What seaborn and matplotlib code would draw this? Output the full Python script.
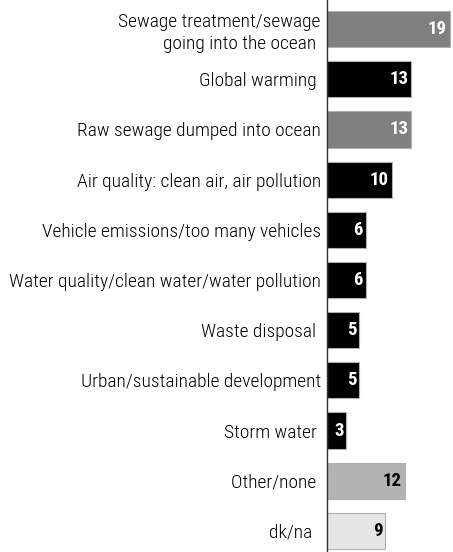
import matplotlib
matplotlib.use("Agg")
import matplotlib.pyplot as plt
import seaborn as sns

# Chart data
categories = [
    "Sewage treatment/sewage\ngoing into the ocean ",
    "Global warming ",
    "Raw sewage dumped into ocean",
    "Air quality: clean air, air pollution",
    "Vehicle emissions/too many vehicles",
    "Water quality/clean water/water pollution",
    "Waste disposal ",
    "Urban/sustainable development",
    "Storm water ",
    "Other/none ",
    "dk/na  ",
]
values = [19, 13, 13, 10, 6, 6, 5, 5, 3, 12, 9]
bar_colors = ["#808080", "#000000", "#808080", "#000000", "#000000", "#000000",
              "#000000", "#000000", "#000000", "#b3b3b3", "#e6e6e6"]
label_colors = ["white"] * 9 + ["black", "black"]

sns.set_style("white")
plt.rcParams["font.family"] = ["Roboto Condensed", "DejaVu Sans"]
plt.rcParams["font.stretch"] = "condensed"

fig = plt.figure(figsize=(4.53, 5.52), dpi=100)
ax = fig.add_axes([0.722, 0.0, 0.278, 1.0])

sns.barplot(x=values, y=list(range(len(categories))), hue=list(range(len(categories))),
            palette=bar_colors, orient="h", legend=False, width=0.72,
            edgecolor="#b0b0b0", linewidth=0.8, ax=ax)

ax.set_xlim(0, 19.5)
ax.set_ylim(10.42, -0.58)
ax.set_yticks(range(len(categories)))
ax.set_yticklabels(categories, fontsize=14, color="black", ha="right",
                   multialignment="right", linespacing=1.3, fontweight="light")
ax.set_xticks([])
ax.set_xlabel("")
ax.set_ylabel("")
ax.tick_params(axis="y", length=0, pad=4.5)

for sp in ["top", "right", "bottom"]:
    ax.spines[sp].set_visible(False)
ax.spines["left"].set_color("#333333")
ax.spines["left"].set_linewidth(1.0)

for i, v in enumerate(values):
    ax.text(v - 0.45, i, str(v), ha="right", va="center", fontsize=13.5,
            fontweight="bold", color=label_colors[i])

fig.savefig("out.png", dpi=100)
